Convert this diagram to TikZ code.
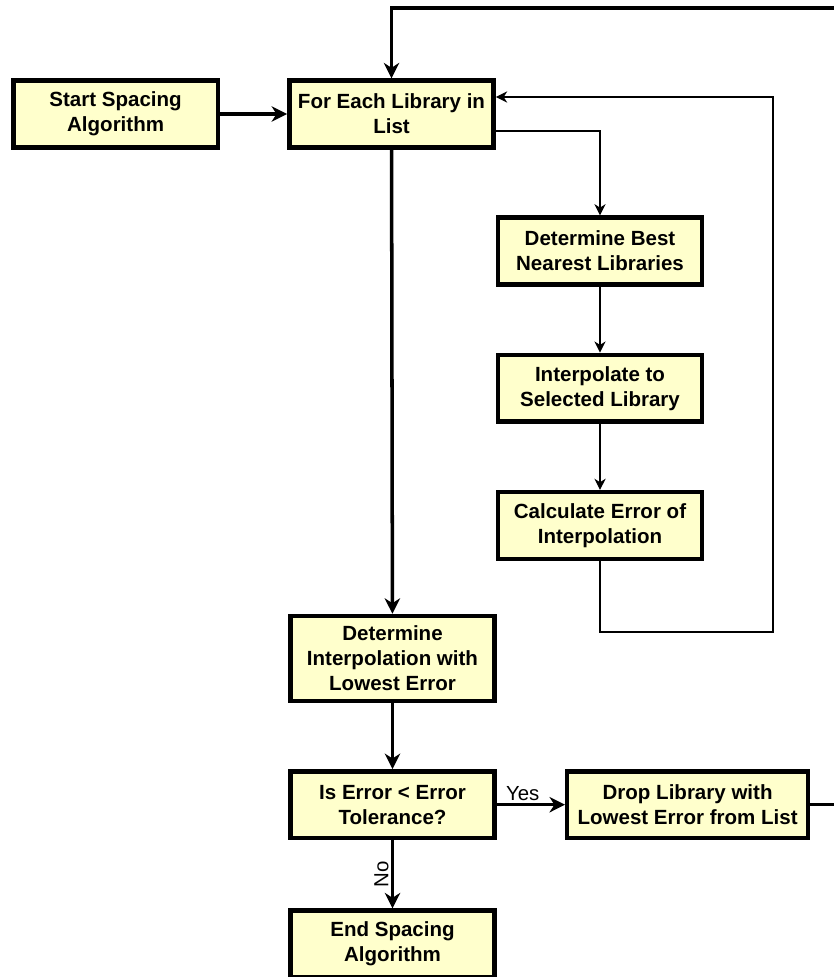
\documentclass[tikz,border=0pt]{standalone}
\usepackage{fontspec}
\setmainfont{Liberation Sans}
\usetikzlibrary{arrows.meta,positioning}
\definecolor{boxfill}{HTML}{FFFFCC}

\begin{document}
\begin{tikzpicture}
	\tikzstyle{step box} = [draw,fill=boxfill,line width=3.2pt,minimum width=5.11cm,minimum height=1.67cm,align=center,inner sep=2pt,font=\bfseries\fontsize{14.6}{17.7}\selectfont];
	\tikzstyle{thick wire} = [line width=2.5pt,-{Stealth[length=11pt,width=11pt,inset=3.5pt]}];
	\tikzstyle{thin wire} = [line width=0.9pt,-{Stealth[length=8pt,width=8pt,inset=2.5pt]}];
	\tikzstyle{answer} = [font=\fontsize{14.5}{16}\selectfont,inner sep=1.5pt];
	\clip (0,0) rectangle (20.85,-24.425);
	\node at (2.89,-2.85) (start) [step box] {Start Spacing\\Algorithm};
	\node (each_lib) [right=1.675cm of start,step box] {For Each Library in\\List};
	\node at (15,-6.275) (best_near) [step box] {Determine Best\\Nearest Libraries};
	\node (interp) [below=1.65cm of best_near,step box] {Interpolate to\\Selected Library};
	\node (calc_err) [below=1.65cm of interp,step box] {Calculate Error of\\Interpolation};
	\node at (9.8125,-16.46) (lowest_err) [step box,minimum height=2.12cm] {Determine\\Interpolation with\\Lowest Error};
	\node (err_check) [below=1.65cm of lowest_err,step box] {Is Error < Error\\Tolerance?};
	\node (drop_lib) [right=1.7cm of err_check,step box,minimum width=6.02cm] {Drop Library with\\Lowest Error from List};
	\node (end_alg) [below=1.7cm of err_check,step box] {End Spacing\\Algorithm};
	\coordinate (loop_top) at (21.2,-0.2);
	\coordinate (ret_corner) at (19.325,-15.8);
	\draw[thick wire] (start) -- (each_lib);
	\draw[thick wire] (each_lib) -- (lowest_err);
	\draw[thick wire] (lowest_err) -- (err_check);
	\draw[thick wire] (err_check) -- node [answer,anchor=south,pos=0.38] {Yes} (drop_lib);
	\draw[thick wire] (err_check) -- node [answer,anchor=south,rotate=90,midway] {No} (end_alg);
	\draw[thick wire] (drop_lib.east) -| (loop_top) -| (each_lib.north);
	\draw[thin wire] ([yshift=-.425cm]each_lib.east) -| (best_near.north);
	\draw[thin wire] (best_near) -- (interp);
	\draw[thin wire] (interp) -- (calc_err);
	\draw[thin wire] (calc_err.south) |- (ret_corner) |- ([yshift=.425cm]each_lib.east);
\end{tikzpicture}
\end{document}
